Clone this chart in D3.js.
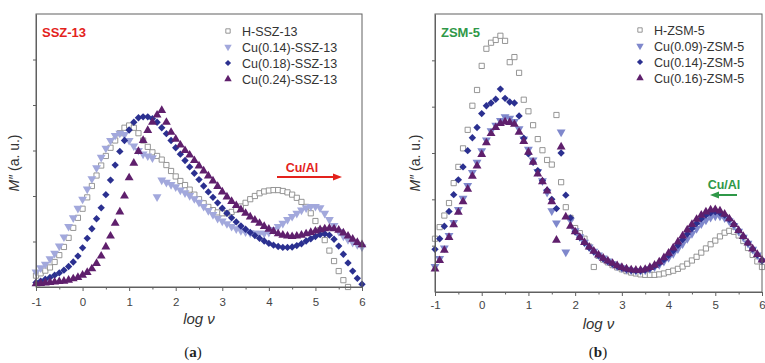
<!DOCTYPE html>
<html><head><meta charset="utf-8">
<script src="https://cdn.jsdelivr.net/npm/d3@7/dist/d3.min.js"></script>
<style>body{margin:0;background:#fff}svg{display:block}</style>
</head><body>
<svg id="c" width="765" height="363"></svg>
<script>
// ---------- data ----------
const logV = [-1.0,-0.9,-0.8,-0.7,-0.6,-0.5,-0.4,-0.3,-0.2,-0.1,
  0.0,0.1,0.2,0.3,0.4,0.5,0.6,0.7,0.8,0.9,
  1.0,1.1,1.2,1.3,1.4,1.5,1.6,1.7,1.8,1.9,
  2.0,2.1,2.2,2.3,2.4,2.5,2.6,2.7,2.8,2.9,
  3.0,3.1,3.2,3.3,3.4,3.5,3.6,3.7,3.8,3.9,
  4.0,4.1,4.2,4.3,4.4,4.5,4.6,4.7,4.8,4.9,
  5.0,5.1,5.2,5.3,5.4,5.5,5.6,5.7,5.8,5.9,6.0];

const xTicks = [-1,0,1,2,3,4,5,6];
const xTickLabels = ["-1","0","1","2","3","4","5","6"];
const xMinorTicks = [-0.5,0.5,1.5,2.5,3.5,4.5,5.5];
const yTicks = [1,2,3,4,5];

// panel (a) SSZ-13
const namesA = ["H-SSZ-13","Cu(0.14)-SSZ-13","Cu(0.18)-SSZ-13","Cu(0.24)-SSZ-13"];
const hSSZ = [0.25,0.30,0.36,0.43,0.55,0.70,0.88,1.08,1.30,1.52,
  1.72,1.97,2.22,2.45,2.67,2.88,3.06,3.22,3.38,3.50,
  3.55,3.50,3.38,3.22,3.08,2.96,2.88,2.80,2.68,2.55,
  2.43,2.33,2.24,2.14,2.03,1.93,1.84,1.76,1.69,1.64,
  1.62,1.62,1.65,1.70,1.77,1.85,1.93,2.00,2.06,2.10,
  2.12,2.13,2.13,2.11,2.08,2.03,1.96,1.87,1.76,1.62,
  1.45,1.25,1.03,0.80,0.57,0.35,0.15,0.00,null,null,null];
const cu14SSZ = [0.33,0.42,0.50,0.62,0.74,0.90,1.10,1.33,1.52,1.73,
  1.93,2.15,2.38,2.62,2.85,3.05,3.22,3.33,3.38,3.35,
  3.22,3.10,3.00,2.92,2.88,2.84,1.98,2.35,2.30,2.25,
  2.20,2.13,2.07,2.01,1.94,1.86,1.77,1.68,1.59,1.51,
  1.45,1.39,1.33,1.28,1.24,1.21,1.19,1.18,1.18,1.18,
  1.20,1.26,1.33,1.40,1.48,1.55,1.62,1.69,1.74,1.77,
  1.77,1.74,1.62,1.48,1.35,1.22,1.12,1.04,0.98,0.93,0.88];
const cu18SSZ = [0.10,0.13,0.17,0.21,0.26,0.31,0.37,0.45,0.55,0.68,
  0.86,1.07,1.28,1.50,1.74,2.03,2.35,2.68,2.98,3.22,
  3.45,3.62,3.72,3.74,3.74,3.70,3.62,3.50,3.37,3.22,
  3.06,2.92,2.78,2.64,2.50,2.36,2.22,2.09,1.97,1.85,
  1.73,1.62,1.52,1.43,1.34,1.27,1.20,1.13,1.07,1.01,
  0.96,0.92,0.89,0.87,0.87,0.88,0.91,0.95,1.01,1.06,
  1.11,1.15,1.17,1.14,1.05,0.90,0.72,0.53,0.35,0.19,0.06];
const cu24SSZ = [0.07,0.08,0.09,0.10,0.11,0.12,0.13,0.15,0.18,0.21,
  0.26,0.32,0.40,0.52,0.68,0.88,1.12,1.40,1.65,2.00,
  2.40,2.72,2.98,3.22,3.44,3.62,3.78,3.88,3.62,3.40,
  3.25,3.12,3.00,2.90,2.78,2.66,2.55,2.44,2.33,2.21,
  2.09,1.98,1.88,1.79,1.70,1.62,1.54,1.47,1.40,1.33,
  1.27,1.22,1.17,1.14,1.12,1.11,1.12,1.14,1.17,1.20,
  1.23,1.26,1.28,1.29,1.28,1.25,1.19,1.12,1.05,0.98,0.93];

// panel (b) ZSM-5
const namesB = ["H-ZSM-5","Cu(0.09)-ZSM-5","Cu(0.14)-ZSM-5","Cu(0.16)-ZSM-5"];
const hZSM = [1.15,1.40,1.65,1.92,2.35,2.70,3.10,3.50,4.02,4.36,
  4.88,5.25,5.38,5.44,5.53,5.42,4.96,5.07,4.73,4.15,
  3.90,3.60,3.30,3.06,2.85,2.75,3.82,2.37,1.83,1.60,
  1.38,1.27,1.15,0.98,0.54,0.78,0.70,0.64,0.58,0.53,
  0.49,0.45,0.42,0.40,0.38,0.37,0.37,0.37,0.38,0.40,
  0.43,0.46,0.50,0.55,0.61,0.68,0.76,0.85,0.94,1.03,
  1.11,1.20,1.28,1.32,1.30,1.22,1.10,0.95,0.80,0.66,0.54];
const cu09ZSM = [0.55,0.72,0.95,1.22,1.50,1.78,2.02,2.30,2.58,2.80,
  3.05,3.28,3.48,3.60,3.70,3.78,3.75,3.68,3.52,3.30,
  3.08,2.85,2.60,2.40,2.15,1.75,1.49,3.45,0.86,1.55,
  1.32,1.19,1.07,0.97,0.88,0.80,0.73,0.67,0.61,0.56,
  0.52,0.49,0.47,0.46,0.46,0.47,0.50,0.54,0.59,0.66,
  0.74,0.83,0.93,1.04,1.15,1.26,1.37,1.47,1.55,1.61,
  1.64,1.64,1.60,1.53,1.43,1.31,1.18,1.05,0.92,0.80,0.68];
const cu14ZSM = [0.92,1.15,1.42,1.74,2.10,2.42,2.70,3.05,3.33,3.55,
  3.85,4.02,4.08,4.16,4.38,4.18,4.10,4.08,3.80,3.32,
  2.98,2.80,2.62,2.40,2.20,2.00,1.80,3.00,2.09,1.60,
  1.30,1.18,1.06,0.96,0.87,0.79,0.72,0.66,0.61,0.56,
  0.52,0.49,0.47,0.46,0.46,0.48,0.51,0.56,0.62,0.70,
  0.79,0.89,1.01,1.13,1.25,1.37,1.48,1.58,1.66,1.71,
  1.73,1.71,1.66,1.57,1.46,1.33,1.20,1.06,0.93,0.80,0.68];
const cu16ZSM = [0.50,0.68,0.90,1.18,1.45,1.72,1.95,2.22,2.50,2.72,
  2.97,3.22,3.42,3.55,3.64,3.67,3.66,3.62,3.45,3.25,
  3.02,2.80,2.55,2.38,2.18,1.95,1.12,3.13,1.62,1.42,
  1.30,1.18,1.07,0.97,0.88,0.80,0.73,0.67,0.62,0.57,
  0.53,0.50,0.48,0.47,0.47,0.49,0.53,0.58,0.65,0.74,
  0.84,0.95,1.08,1.21,1.34,1.46,1.57,1.66,1.73,1.77,
  1.78,1.75,1.68,1.58,1.46,1.33,1.20,1.06,0.93,0.81,0.69];

// ---------- drawing ----------
const svg = d3.select('#c');
const FONT = "'Liberation Sans', Arial, Helvetica, sans-serif";

const styles = [
  {type: d3.symbolSquare, size: 27, rot: 0, fill: '#ffffff', stroke: '#8a8a8a', sw: 0.9},
  {type: d3.symbolTriangle, size: 34, rot: 180, fill: null, stroke: 'none', sw: 0},
  {type: d3.symbolSquare, size: 27, rot: 45, fill: '#2b3090', stroke: 'none', sw: 0},
  {type: d3.symbolTriangle, size: 34, rot: 0, fill: '#5f1f6c', stroke: 'none', sw: 0}
];

function panel(cfg) {
  const x = d3.scaleLinear().domain([-1, 6]).range([cfg.x0, cfg.x1]);
  const y = d3.scaleLinear().domain([0, 6]).range([cfg.y0, cfg.y1]);
  const g = svg.append('g');

  cfg.series.forEach((vals, si) => {
    const st = styles[si];
    const sym = d3.symbol().type(st.type).size(st.size);
    const pts = logV.map((v, i) => [v, vals[i]]).filter(d => d[1] !== null);
    g.append('g').selectAll('path').data(pts).join('path')
      .attr('d', sym)
      .attr('transform', d => `translate(${x(d[0])},${y(d[1])}) rotate(${st.rot})`)
      .attr('fill', si === 1 ? cfg.light : st.fill)
      .attr('stroke', st.stroke)
      .attr('stroke-width', st.sw);
  });

  g.append('rect').attr('x', cfg.x0).attr('y', cfg.y1)
    .attr('width', cfg.x1 - cfg.x0).attr('height', cfg.y0 - cfg.y1)
    .attr('fill', 'none').attr('stroke', '#606060').attr('stroke-width', 1);

  const xa = g.append('g').attr('transform', `translate(0,${cfg.y0})`)
    .call(d3.axisBottom(x).tickValues(xTicks).tickSize(4).tickSizeOuter(0)
      .tickFormat((d, i) => xTickLabels[i]));
  xa.select('.domain').attr('stroke', '#606060');
  xa.selectAll('.tick line').attr('stroke', '#606060');
  xa.selectAll('.tick text').attr('font-family', FONT).attr('font-size', 11.5)
    .attr('fill', '#444').attr('dy', cfg.labDy);
  const xm = g.append('g').attr('transform', `translate(0,${cfg.y0})`)
    .call(d3.axisBottom(x).tickValues(xMinorTicks).tickSize(2.5).tickFormat(''));
  xm.select('.domain').remove();
  xm.selectAll('.tick line').attr('stroke', '#606060');

  const ya = g.append('g').attr('transform', `translate(${cfg.x0},0)`)
    .call(d3.axisLeft(y).tickValues(yTicks).tickSize(3).tickSizeOuter(0).tickFormat(''));
  ya.select('.domain').attr('stroke', '#606060');
  ya.selectAll('.tick line').attr('stroke', '#606060');

  g.append('text').attr('x', (cfg.x0 + cfg.x1) / 2).attr('y', cfg.y0 + 37)
    .attr('text-anchor', 'middle').attr('font-family', FONT).attr('font-size', 15)
    .attr('font-style', 'italic').attr('fill', '#333').text('log ν');
  const yt = g.append('text')
    .attr('transform', `translate(${cfg.ylx},${cfg.yly}) rotate(-90)`)
    .attr('text-anchor', 'middle').attr('font-family', FONT).attr('font-size', 14)
    .attr('fill', '#333');
  yt.append('tspan').attr('font-style', 'italic').text('M″');
  yt.append('tspan').text(' (a. u.)');

  g.append('text').attr('x', cfg.capx).attr('y', 357).attr('text-anchor', 'middle')
    .attr('font-family', "'Liberation Serif', 'Times New Roman', serif").attr('font-size', 15)
    .attr('fill', '#222').html(cfg.cap);

  g.append('text').attr('x', cfg.x0 + 6).attr('y', 37).attr('font-family', FONT)
    .attr('font-size', 13).attr('font-weight', 'bold').attr('fill', cfg.tcol).text(cfg.title);

  cfg.names.forEach((n, i) => {
    const st = styles[i];
    const ly = cfg.legY + i * 16;
    g.append('path').attr('d', d3.symbol().type(st.type).size(st.size * 0.7))
      .attr('transform', `translate(${cfg.legX},${ly}) rotate(${st.rot})`)
      .attr('fill', i === 1 ? cfg.light : st.fill).attr('stroke', st.stroke).attr('stroke-width', st.sw);
    g.append('text').attr('x', cfg.legX + 14).attr('y', ly + 4.5).attr('font-family', FONT)
      .attr('font-size', 12.5).attr('fill', '#333').text(n);
  });

  g.append('text').attr('x', cfg.arrTx).attr('y', cfg.arrTy).attr('text-anchor', 'middle')
    .attr('font-family', FONT).attr('font-size', 12.5).attr('font-weight', 'bold')
    .attr('fill', cfg.tcol).text('Cu/Al');
  g.append('line').attr('x1', cfg.arrX1).attr('x2', cfg.arrX2).attr('y1', cfg.arrY).attr('y2', cfg.arrY)
    .attr('stroke', cfg.tcol).attr('stroke-width', 2);
  const dir = Math.sign(cfg.arrX2 - cfg.arrX1);
  const tip = cfg.arrX2 + dir * 4;
  g.append('path')
    .attr('d', `M${tip},${cfg.arrY} L${tip - dir * 9},${cfg.arrY - 3.5} L${tip - dir * 9},${cfg.arrY + 3.5} Z`)
    .attr('fill', cfg.tcol);
}

panel({
  x0: 36, x1: 362, y0: 287, y1: 14, labDy: '1.05em',
  series: [hSSZ, cu14SSZ, cu18SSZ, cu24SSZ], names: namesA,
  light: '#a2a8dc', title: 'SSZ-13', tcol: '#e3221c',
  ylx: 19, yly: 163, capx: 193, cap: '(<tspan font-weight="bold">a</tspan>)',
  legX: 228, legY: 31,
  arrTx: 302, arrTy: 172, arrX1: 277, arrX2: 338, arrY: 177
});
panel({
  x0: 435, x1: 762, y0: 292, y1: 14, labDy: '0.85em',
  series: [hZSM, cu09ZSM, cu14ZSM, cu16ZSM], names: namesB,
  light: '#7f88cc', title: 'ZSM-5', tcol: '#2f9848',
  ylx: 420, yly: 163, capx: 598, cap: '(<tspan font-weight="bold">b</tspan>)',
  legX: 640, legY: 30,
  arrTx: 724, arrTy: 189, arrX1: 737, arrX2: 714, arrY: 195
});
</script>
</body></html>
